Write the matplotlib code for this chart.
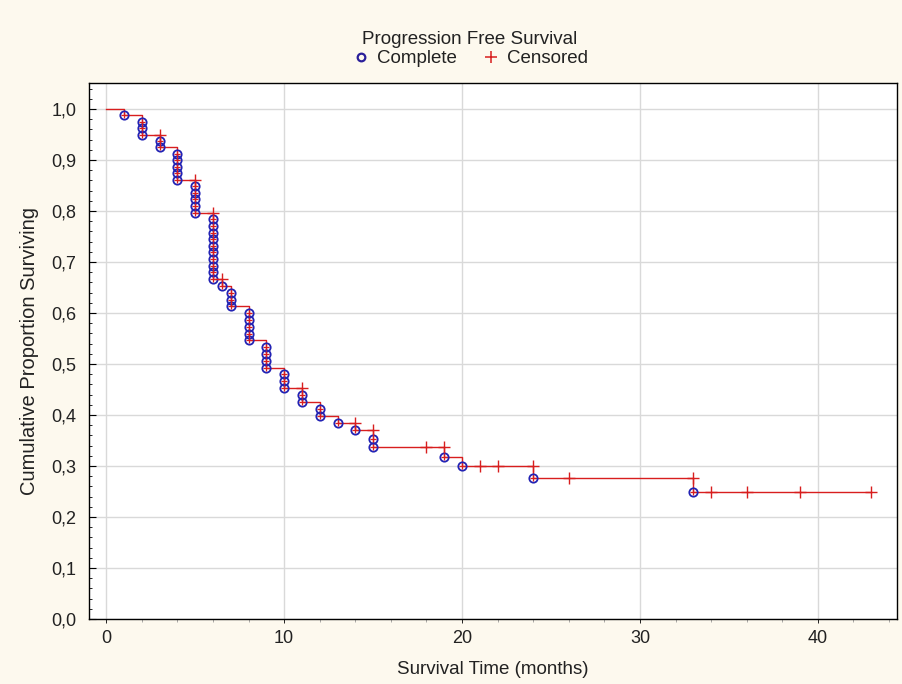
import matplotlib
matplotlib.use("Agg")
import matplotlib.pyplot as plt
from matplotlib.lines import Line2D
from matplotlib.ticker import FuncFormatter, MultipleLocator
import numpy as np

# ---- data ----
n_subjects = 80
event_times = [1, 2, 3, 4, 5, 6, 6.5, 7, 8, 9, 10, 11, 12, 13, 14, 15, 19, 20, 24, 33]
deaths = [1, 3, 2, 5, 5, 10, 1, 3, 5, 4, 3, 2, 2, 1, 1, 2, 1, 1, 1, 1]
censor_times = [3, 5, 6, 6.5, 11, 14, 15, 18, 19, 21, 22, 24, 26, 33, 34, 36, 39, 43]
censor_counts = [1, 1, 1, 1, 1, 1, 4, 1, 1, 1, 1, 1, 1, 1, 2, 2, 2, 3]
x_ticks = [0, 10, 20, 30, 40]
y_ticks = [0.0, 0.1, 0.2, 0.3, 0.4, 0.5, 0.6, 0.7, 0.8, 0.9, 1.0]

# ---- Kaplan-Meier (product-limit) estimate ----
all_times = sorted(set(event_times) | set(censor_times))
d_map = dict(zip(event_times, deaths))
c_map = dict(zip(censor_times, censor_counts))
at_risk = n_subjects
S = 1.0
step_x, step_y = [0.0], [1.0]
circ_x, circ_y = [], []
cens_x, cens_y = [], []
for t in all_times:
    c = c_map.get(t, 0)
    d = d_map.get(t, 0)
    if c:
        cens_x.append(t)
        cens_y.append(S)
        at_risk -= c
    if d:
        for j in range(1, d + 1):
            circ_x.append(t)
            circ_y.append(S * (at_risk - j) / at_risk)
        S = S * (at_risk - d) / at_risk
        at_risk -= d
        step_x.append(t)
        step_y.append(S)
step_x.append(max(all_times))
step_y.append(S)

# ---- figure ----
W, H = 902, 684
plt.rcParams["font.family"] = ["Liberation Sans", "DejaVu Sans"]
fig = plt.figure(figsize=(W / 100, H / 100), dpi=100)
fig.patch.set_facecolor("#fdf9ee")

ax = fig.add_axes([89 / W, 1 - 619 / H, (897 - 89) / W, (619 - 83) / H])
ax.set_facecolor("white")

red = "#d81e1e"
blue = "#2323b4"
txt = "#222222"

ax.step(step_x, step_y, where="post", color=red, lw=1.0, zorder=3)
ax.plot(circ_x, circ_y, linestyle="none", marker="o", markersize=6.0,
        markerfacecolor="none", markeredgecolor=blue, markeredgewidth=1.3, zorder=4)
ax.plot(circ_x, circ_y, linestyle="none", marker="+", markersize=4.0,
        color=red, markeredgewidth=0.9, zorder=5)
ax.plot(cens_x, cens_y, linestyle="none", marker="+", markersize=8.5,
        color=red, markeredgewidth=1.0, zorder=5)

ax.set_xlim(-0.97, 44.45)
ax.set_ylim(0, 1.051)
ax.set_xticks(x_ticks)
ax.set_yticks(y_ticks)
ax.xaxis.set_minor_locator(MultipleLocator(2))
ax.yaxis.set_minor_locator(MultipleLocator(0.02))
ax.yaxis.set_major_formatter(FuncFormatter(lambda v, p: f"{v:.1f}".replace(".", ",")))
ax.grid(True, which="major", color="#d9d9d9", lw=1.0, zorder=0)
ax.set_axisbelow(True)
ax.tick_params(axis="y", which="major", direction="in", length=5, width=0.8,
               labelsize=13, pad=9, colors="black", labelcolor=txt)
ax.tick_params(axis="y", which="minor", direction="in", length=2.5, width=0.6)
ax.tick_params(axis="x", which="major", direction="out", length=3, width=0.6,
               labelsize=13, pad=5, labelcolor=txt)
ax.tick_params(axis="x", which="minor", direction="out", length=2, width=0.5, color="#888888")
for sp in ax.spines.values():
    sp.set_color("black")
    sp.set_linewidth(1.0)

ax.set_xlabel("Survival Time (months)", fontsize=13.5, color=txt, labelpad=10)
ax.set_ylabel("Cumulative Proportion Surviving", fontsize=14.5, color=txt, labelpad=9)

handles = [
    Line2D([], [], linestyle="none", marker="o", markersize=5.5, markerfacecolor="none",
           markeredgecolor="#2a1f9a", markeredgewidth=1.6),
    Line2D([], [], linestyle="none", marker="+", markersize=8, color=red, markeredgewidth=1.1),
]
leg = fig.legend(handles, ["Complete", "Censored"], ncol=2, loc="center",
                 bbox_to_anchor=(470 / W, 1 - 49 / H), frameon=False,
                 title="Progression Free Survival", fontsize=13.5, title_fontsize=13.5,
                 handletextpad=0.35, columnspacing=1.35, handlelength=1.0, borderpad=0.2,
                 labelspacing=0.15)
leg.get_title().set_color(txt)
for t in leg.get_texts():
    t.set_color(txt)

fig.savefig("out.png", dpi=100, facecolor=fig.get_facecolor())
